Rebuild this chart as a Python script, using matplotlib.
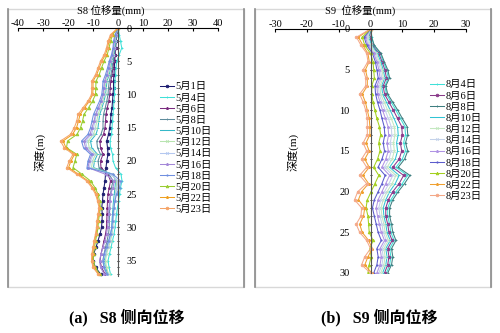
import matplotlib
matplotlib.use('Agg')
import matplotlib.pyplot as plt
from matplotlib.patches import Rectangle
from matplotlib.lines import Line2D
from matplotlib.ticker import MultipleLocator

plt.rcParams['font.family'] = ['Liberation Serif', 'Noto Sans CJK SC']
plt.rcParams['axes.unicode_minus'] = False

# ---------------- S8 data (depth 0..37 m) ----------------
depth_s8 = list(range(0, 38))
dates_s8 = ['5月1日', '5月4日', '5月6日', '5月8日', '5月10日', '5月12日',
            '5月14日', '5月16日', '5月18日', '5月20日', '5月22日', '5月23日']
s8_0501 = [0, -0.5, -0.8, -1.0, -1.2, -1.3, -1.5, -1.6, -1.8, -1.8, -2.0, -2.2, -2.4, -2.8, -3.0, -3.3, -3.8, -4.5, -4.2, -4.0,
           -4.5, -4.8, -5.0, -5.2, -5.6, -6.0, -6.2, -6.5, -6.3, -6.4, -6.6, -7.2, -8.0, -8.8, -9.8, -10.0, -9.0, -7.0]
s8_0504 = [0, 0.5, 1.0, 1.5, 0.5, -0.5, -0.8, -1.0, -1.2, -1.3, -1.4, -1.6, -1.8, -2.0, -2.2, -2.4, -2.6, -3.2, -3.0, -2.2,
           -2.0, -1.0, 1.2, 1.6, 1.0, 0.6, 0.2, -0.2, -0.6, -0.9, -1.2, -1.6, -2.2, -2.8, -3.4, -4.0, -3.6, -3.0]
s8_0506 = [0, -0.5, -0.8, -1.0, -1.3, -1.7, -2.0, -2.4, -2.9, -3.1, -3.3, -3.7, -4.3, -4.8, -5.0, -5.2, -5.8, -7.2, -7.0, -6.0,
           -7.0, -6.8, -4.0, -3.0, -3.5, -4.0, -4.2, -4.3, -4.4, -4.5, -4.6, -5.0, -5.6, -6.2, -6.8, -7.2, -6.6, -5.2]
s8_0508 = [0, -0.6, -0.9, -1.1, -1.5, -2.0, -2.4, -2.8, -3.5, -3.8, -4.0, -4.5, -5.1, -5.8, -6.0, -6.0, -6.8, -8.5, -8.2, -7.0,
           -8.0, -7.6, -3.5, -2.0, -2.6, -3.0, -3.2, -3.3, -3.4, -3.5, -3.5, -3.8, -4.4, -5.0, -5.6, -6.0, -5.6, -4.6]
s8_0510 = [0, -0.7, -1.0, -1.3, -1.8, -2.4, -3.0, -3.5, -4.4, -4.7, -5.0, -5.6, -6.4, -7.3, -7.7, -8.0, -8.8, -11.0, -10.5, -8.2,
           -9.4, -9.8, -2.0, -1.0, -1.2, -1.5, -1.8, -2.0, -2.2, -2.4, -2.5, -2.9, -3.6, -4.3, -5.0, -5.5, -5.0, -4.0]
s8_0512 = [0, -0.8, -1.2, -1.5, -2.0, -2.7, -3.3, -3.9, -4.8, -5.1, -5.4, -6.1, -7.0, -8.0, -8.5, -9.0, -9.8, -12.0, -11.5, -9.0,
           -10.2, -10.6, -2.5, -0.5, -0.7, -1.0, -1.3, -1.5, -1.7, -1.9, -2.0, -2.4, -3.0, -3.8, -4.6, -5.0, -4.6, -3.8]
s8_0514 = [0, -0.9, -1.4, -1.7, -2.2, -3.0, -3.6, -4.3, -5.2, -5.5, -5.8, -6.6, -7.6, -8.7, -9.2, -9.8, -10.6, -13.0, -12.4, -9.8,
           -11.0, -11.4, -3.0, 0.0, -0.4, -1.0, -1.4, -1.6, -1.8, -2.0, -2.2, -2.6, -3.4, -4.2, -5.2, -6.0, -5.6, -4.6]
s8_0516 = [0, -1.0, -1.5, -1.8, -2.3, -3.1, -3.8, -4.5, -5.4, -5.7, -6.0, -6.8, -7.9, -9.0, -9.6, -10.4, -11.2, -13.6, -13.0, -10.4,
           -11.5, -12.0, -5.0, -1.5, -2.0, -3.0, -3.4, -3.6, -3.8, -4.0, -4.2, -4.6, -5.2, -6.0, -6.8, -7.4, -7.0, -5.6]
s8_0518 = [0, -1.2, -1.8, -2.0, -2.6, -3.5, -4.2, -5.0, -6.0, -6.2, -6.5, -7.4, -8.6, -9.8, -10.4, -11.0, -12.0, -14.6, -13.8, -11.0,
           -12.0, -12.4, -2.0, 1.0, 0.6, -0.6, -1.2, -1.6, -2.0, -2.2, -2.5, -3.0, -3.8, -4.6, -5.6, -6.0, -5.6, -4.4]
s8_0520 = [0, -2.2, -3.0, -3.6, -4.3, -5.6, -6.6, -7.5, -8.8, -8.9, -9.0, -10.2, -11.8, -13.6, -14.2, -15.0, -16.4, -20.2, -20.6, -16.5,
           -17.2, -18.0, -14.4, -11.0, -9.2, -8.0, -7.4, -7.0, -7.4, -7.8, -8.0, -8.4, -9.0, -9.4, -9.8, -9.9, -9.2, -7.4]
s8_0522 = [0, -2.6, -3.6, -4.2, -5.0, -6.5, -7.5, -8.5, -10.0, -10.0, -10.1, -11.5, -13.4, -15.2, -15.8, -16.6, -18.2, -22.0, -20.8, -17.4,
           -18.8, -19.8, -15.8, -12.0, -10.0, -8.6, -7.9, -7.3, -7.7, -8.2, -8.4, -8.8, -9.4, -9.8, -10.2, -10.3, -9.7, -7.8]
s8_0523 = [0, -3.0, -4.0, -4.6, -5.5, -7.0, -8.0, -9.0, -10.5, -10.5, -10.6, -12.0, -14.0, -16.0, -16.5, -17.5, -19.0, -23.0, -21.5, -18.0,
           -19.5, -20.5, -16.5, -12.5, -10.5, -9.0, -8.2, -7.6, -8.0, -8.4, -8.6, -9.0, -9.6, -10.0, -10.5, -10.6, -10.0, -8.0]
series_s8 = [s8_0501, s8_0504, s8_0506, s8_0508, s8_0510, s8_0512,
             s8_0514, s8_0516, s8_0518, s8_0520, s8_0522, s8_0523]

# ---------------- S9 data (depth 0..30 m) ----------------
depth_s9 = list(range(0, 31))
dates_s9 = ['8月4日', '8月6日', '8月8日', '8月10日', '8月12日', '8月14日',
            '8月16日', '8月18日', '8月20日', '8月22日', '8月23日']
s9_0804 = [0, 0.5, 1.0, 3.0, 4.0, 5.0, 5.6, 4.5, 5.0, 6.5, 8.0, 9.4, 10.8, 11.0, 10.4, 11.0, 10.0, 8.0, 11.6, 10.0,
           8.0, 6.4, 5.4, 5.4, 6.0, 6.4, 7.4, 6.0, 6.4, 6.0, 5.0]
s9_0806 = [0, -0.3, 0.6, 2.6, 3.6, 4.5, 5.0, 4.0, 4.4, 5.8, 7.2, 8.5, 9.8, 10.0, 9.4, 9.8, 9.0, 7.0, 10.4, 9.0,
           7.0, 5.6, 4.8, 4.8, 5.4, 5.8, 6.8, 5.4, 5.8, 5.4, 4.4]
s9_0808 = [0, 0.3, 1.2, 3.3, 4.3, 5.4, 6.0, 4.8, 5.4, 7.0, 8.6, 10.0, 11.5, 11.7, 11.0, 11.7, 10.7, 8.7, 12.4, 10.7,
           8.7, 7.0, 6.0, 6.0, 6.6, 7.0, 8.0, 6.6, 7.0, 6.6, 5.4]
s9_0810 = [0, -0.6, 0.4, 2.2, 3.2, 4.0, 4.5, 3.5, 3.8, 5.0, 6.2, 7.4, 8.5, 8.7, 8.2, 8.5, 7.8, 6.0, 9.0, 7.8,
           6.0, 4.8, 4.0, 4.2, 4.8, 5.2, 6.2, 4.8, 5.2, 4.8, 3.8]
s9_0812 = [0, -0.9, 0.0, 1.8, 2.8, 3.6, 4.0, 3.0, 3.2, 4.3, 5.4, 6.5, 7.5, 7.7, 7.2, 7.5, 6.8, 5.2, 8.0, 6.8,
           5.2, 4.0, 3.3, 3.6, 4.2, 4.6, 5.6, 4.2, 4.6, 4.2, 3.2]
s9_0814 = [0, -1.2, -0.4, 1.4, 2.4, 3.1, 3.5, 2.5, 2.7, 3.6, 4.6, 5.6, 6.5, 6.7, 6.2, 6.5, 5.8, 4.4, 7.0, 5.8,
           4.4, 3.2, 2.6, 3.0, 3.6, 4.0, 5.0, 3.6, 4.0, 3.6, 2.6]
s9_0816 = [0, -1.6, -0.8, 1.0, 2.0, 2.6, 3.0, 2.0, 2.2, 3.0, 3.8, 4.7, 5.5, 5.7, 5.2, 5.6, 4.8, 3.6, 6.0, 4.8,
           3.6, 2.4, 1.8, 2.2, 2.8, 3.4, 4.4, 3.0, 3.4, 3.0, 2.0]
s9_0818 = [0, -2.0, -1.2, 0.6, 1.5, 2.0, 2.4, 1.4, 1.6, 2.2, 3.0, 3.6, 4.3, 4.5, 4.0, 4.4, 3.6, 2.4, 4.6, 3.6,
           2.4, 1.2, 0.6, 1.2, 1.8, 2.4, 3.4, 2.0, 2.4, 2.0, 1.0]
s9_0820 = [0, -2.6, -1.8, 0.0, 0.8, 1.0, 1.2, 0.4, 0.4, 0.8, 1.4, 2.0, 2.8, 3.2, 2.6, 3.0, 2.2, 1.0, 2.6, 1.4,
           0.2, -1.0, -1.4, -0.8, -0.6, -0.4, 0.8, -0.2, 0.2, -0.4, -0.8]
s9_0822 = [0, -3.8, -2.4, -0.8, -0.4, -1.6, -1.0, -1.0, -2.6, -1.6, -1.0, -0.4, -0.2, -0.2, -1.4, -0.4, -1.8, -0.4, -2.4, -0.6,
           -2.8, -3.8, -1.8, -2.2, -3.4, -2.6, -0.6, 0.6, -0.8, -1.8, 0.4]
s9_0823 = [0, -4.4, -3.0, -1.2, -0.8, -2.3, -1.5, -1.5, -3.4, -2.3, -1.5, -1.0, -1.0, -1.0, -2.3, -1.2, -2.8, -1.2, -3.4, -1.2,
           -4.0, -5.0, -2.8, -3.0, -4.5, -3.4, -1.2, 0.0, -1.8, -2.8, 0.0]
series_s9 = [s9_0804, s9_0806, s9_0808, s9_0810, s9_0812, s9_0814,
             s9_0816, s9_0818, s9_0820, s9_0822, s9_0823]

colors_s8 = ['#1c1c70', '#3fe0d8', '#7a2c80', '#5e8c9c', '#35b8c8', '#b8e4b0',
             '#b4c8f0', '#a488d8', '#6f8fe0', '#9acd32', '#f0a020', '#f5a468']
markers_s8 = ['o', '+', '*', '+', '_', 'x', 'x', '*', '.', '^', '*', 'o']
colors_s9 = ['#3fe0d8', '#8a3a8a', '#3e7e80', '#30c4d4', '#c4e8c0', '#c4d2ea',
             '#b094e4', '#5c5ccc', '#a4d020', '#f0a030', '#f4a888']
markers_s9 = ['+', 'o', '+', '_', 'x', 'x', '*', '.', '^', '*', 'o']

FONT = ['Liberation Serif', 'Noto Sans CJK SC']

fig = plt.figure(figsize=(5.0, 3.33), dpi=100)


def draw_panel(ax, depth, series, colors, markers, labels, xmax, ymax, label_right, ypad):
    for vals, c, m, lab in zip(series, colors, markers, labels):
        ax.plot(vals, depth, color=c, lw=0.75, marker=m, ms=1.9, mew=0.6, label=lab)
    ax.set_xlim(-xmax, xmax)
    ax.set_ylim(ymax, 0)
    ax.xaxis.set_ticks_position('top')
    ax.xaxis.set_major_locator(MultipleLocator(10))
    ax.tick_params(axis='x', labelsize=7.5, length=2, pad=0, direction='in')
    ax.spines['bottom'].set_visible(False)
    ax.spines['top'].set_linewidth(0.8)
    if label_right:
        ax.spines['left'].set_visible(False)
        ax.spines['right'].set_position(('data', 0))
        ax.yaxis.set_ticks_position('right')
        side = 'right'
    else:
        ax.spines['right'].set_visible(False)
        ax.spines['left'].set_position(('data', 0))
        ax.yaxis.set_ticks_position('left')
        side = 'left'
    ax.spines[side].set_color('#555555')
    ax.spines[side].set_linewidth(0.8)
    ax.yaxis.set_major_locator(MultipleLocator(5))
    ax.yaxis.set_minor_locator(MultipleLocator(1))
    ax.tick_params(axis='y', which='major', labelsize=7.5, length=2, pad=ypad, direction='inout')
    ax.tick_params(axis='y', which='minor', length=1.5, direction='inout')
    ax.set_facecolor('none')


# panel frames
for x0 in (8, 255):
    fig.patches.append(Rectangle((x0 / 500, 1 - 287 / 333), 236 / 500, 278 / 333,
                                 transform=fig.transFigure, fill=False,
                                 edgecolor='#d8d8d8', lw=1.0))
    for xe in (x0, x0 + 236):
        fig.lines.append(Line2D([xe / 500, xe / 500], [1 - 287 / 333, 1 - 9 / 333],
                                transform=fig.transFigure, color='#8c8c8c', lw=1.2))

# S8
ax1 = fig.add_axes([18 / 500, 1 - 276 / 333, 200 / 500, 248 / 333])
draw_panel(ax1, depth_s8, series_s8, colors_s8, markers_s8, dates_s8, 40, 37.3, True, 5)
ax1.legend(loc='upper left', bbox_to_anchor=(160 / 500, 1 - 82 / 333), bbox_transform=fig.transFigure,
           frameon=False, fontsize=7.5, handlelength=1.3, handletextpad=0.2,
           labelspacing=0.18, borderpad=0, borderaxespad=0)

# S9
ax2 = fig.add_axes([275 / 500, 1 - 273 / 333, 191 / 500, 244 / 333])
draw_panel(ax2, depth_s9, series_s9, colors_s9, markers_s9, dates_s9, 30, 30, False, 14)
ax2.legend(loc='upper left', bbox_to_anchor=(430 / 500, 1 - 80 / 333), bbox_transform=fig.transFigure,
           frameon=False, fontsize=7.5, handlelength=1.3, handletextpad=0.2,
           labelspacing=0.18, borderpad=0, borderaxespad=0)

# titles and labels
fig.text(111 / 500, 1 - 11 / 333, 'S8 位移量(mm)', ha='center', va='center', fontsize=7.5, family=FONT)
fig.text(360 / 500, 1 - 11 / 333, 'S9  位移量(mm)', ha='center', va='center', fontsize=7.5, family=FONT)
fig.text(40 / 500, 1 - 152 / 333, '深度(m)', ha='center', va='center', rotation=90, fontsize=8, family=FONT)
fig.text(293 / 500, 1 - 152 / 333, '深度(m)', ha='center', va='center', rotation=90, fontsize=8, family=FONT)
fig.text(127 / 500, 1 - 318 / 333, '(a)   S8 侧向位移', ha='center', va='center', fontsize=11.5,
         fontweight='bold', family=FONT)
fig.text(379 / 500, 1 - 318 / 333, '(b)   S9 侧向位移', ha='center', va='center', fontsize=11.5,
         fontweight='bold', family=FONT)

fig.savefig('out.png', dpi=100)
